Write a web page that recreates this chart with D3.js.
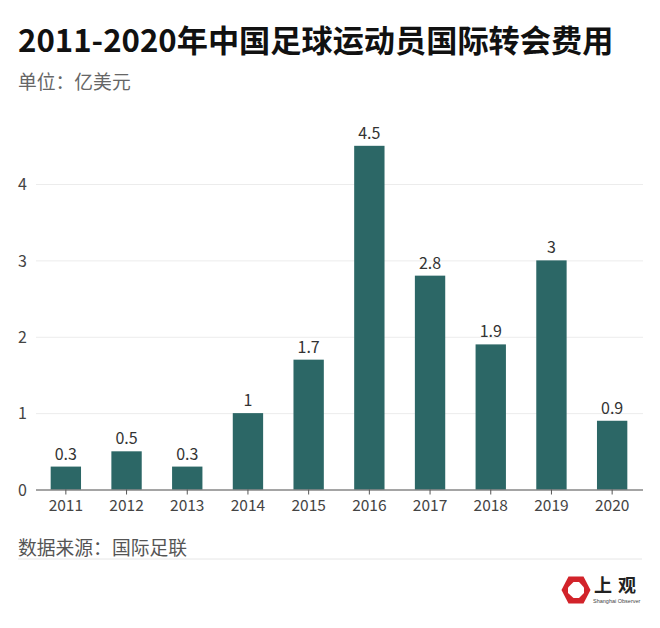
<!DOCTYPE html>
<html>
<head>
<meta charset="utf-8">
<script src="https://d3js.org/d3.v7.min.js"></script>
<style>
  html, body { margin: 0; padding: 0; background: #fff; }
  svg { display: block; }
  text { font-family: "Noto Sans CJK SC", "Noto Sans", sans-serif; }
</style>
</head>
<body>
<div id="chart"></div>
<script>
var years = ["2011","2012","2013","2014","2015","2016","2017","2018","2019","2020"];
var fees = [0.3, 0.5, 0.3, 1, 1.7, 4.5, 2.8, 1.9, 3, 0.9];
var yTicks = [0, 1, 2, 3, 4];

var svg = d3.select("#chart").append("svg")
    .attr("width", 660)
    .attr("height", 628);

svg.append("text").attr("x", 18).attr("y", 52)
    .attr("font-size", 31.2).attr("font-weight", 700).attr("fill", "#111")
    .text("2011-2020年中国足球运动员国际转会费用");
svg.append("text").attr("x", 18).attr("y", 89)
    .attr("font-size", 18.8).attr("fill", "#666")
    .text("单位：亿美元");

var x = d3.scaleBand().domain(years).range([36, 643]).paddingInner(0.5).paddingOuter(0.25);
var y = d3.scaleLinear().domain([0, 4]).range([489.5, 184]);

// gridlines + y labels
var yAxis = svg.append("g").attr("transform", "translate(36,0)")
    .call(d3.axisLeft(y).tickValues(yTicks).tickSize(-607).tickFormat(d3.format("d")));
yAxis.select(".domain").remove();
yAxis.selectAll("line").attr("stroke", "#ececec");
yAxis.selectAll("text").attr("x", -9).attr("dy", "0.36em")
    .attr("font-size", 16).attr("fill", "#444")
    .style("font-family", '"Noto Sans CJK SC"');

svg.selectAll("rect.bar").data(fees).enter().append("rect")
    .attr("class", "bar")
    .attr("x", function(d, i) { return x(years[i]) - 0.5; })
    .attr("y", function(d) { return y(d); })
    .attr("width", x.bandwidth())
    .attr("height", function(d) { return y(0) - y(d); })
    .attr("fill", "#2c6766");

svg.selectAll("text.val").data(fees).enter().append("text")
    .attr("class", "val")
    .attr("x", function(d, i) { return x(years[i]) + x.bandwidth() / 2 - 0.5; })
    .attr("y", function(d) { return y(d) - 7; })
    .attr("text-anchor", "middle")
    .attr("font-size", 16).attr("fill", "#333")
    .text(function(d) { return d; });

var xAxis = svg.append("g").attr("transform", "translate(-0.5,489.5)")
    .call(d3.axisBottom(x).tickSize(5).tickSizeOuter(0));
xAxis.select(".domain").attr("stroke", "#555");
xAxis.selectAll("line").attr("stroke", "#555");
xAxis.selectAll("text").attr("y", 10.5)
    .attr("font-size", 15.5).attr("fill", "#444")
    .style("font-family", '"Noto Sans CJK SC"');

svg.append("text").attr("x", 18).attr("y", 555)
    .attr("font-size", 18.8).attr("fill", "#555")
    .text("数据来源：国际足联");
svg.append("line").attr("x1", 18).attr("x2", 642).attr("y1", 559).attr("y2", 559)
    .attr("stroke", "#e6e6e6");

// logo
var logo = svg.append("g").attr("transform", "translate(576,590)");
logo.append("path").attr("d", "M-14.5,0L-7.5,-13.5L7.5,-13.5L14.5,0L7.5,13.5L-7.5,13.5Z").attr("fill", "#d2232a");
logo.append("path").attr("d", "M-8,-2.5L-2.5,-8L3,-8L8,-2.5L8,3L3,8L-2.5,8L-8,3Z").attr("fill", "#fff");
svg.append("text").attr("x", 594).attr("y", 592)
    .attr("font-size", 18).attr("font-weight", 700).attr("fill", "#222").attr("letter-spacing", 6)
    .style("font-family", '"Noto Sans CJK SC"')
    .text("上观");
svg.append("text").attr("x", 593).attr("y", 603)
    .attr("font-size", 5.5).attr("fill", "#444")
    .style("font-family", '"Liberation Sans"')
    .text("Shanghai Observer");
</script>
</body>
</html>
